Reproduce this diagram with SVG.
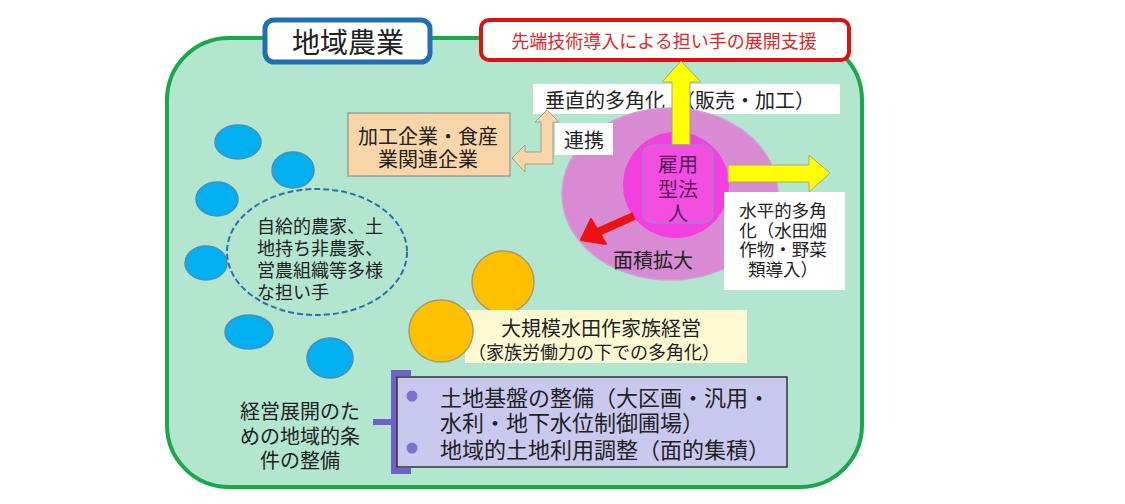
<svg xmlns="http://www.w3.org/2000/svg" width="1125" height="504" viewBox="0 0 1125 504">
<style>
text{font-family:"Noto Sans CJK JP","Noto Sans",sans-serif;dominant-baseline:central;fill:#222}
.c{text-anchor:middle}
.wbox{fill:#ffffff}
.blue{fill:#00b0f0;stroke:#4a8fb8;stroke-width:1.5}
.orange{fill:#ffc000;stroke:#a89a72;stroke-width:1.5}
.yarrow{fill:#ffff00;stroke:#a8a878;stroke-width:1}
.corp{fill:#5c1a5c}
</style>
<rect width="1125" height="504" fill="#ffffff"/>
<g id="region">
<rect x="167" y="38" width="695" height="449" rx="62" fill="#b3e6cf" stroke="#19a94a" stroke-width="4"/>
</g>
<g id="title">
<rect x="265" y="20" width="165" height="42" rx="9" fill="#ffffff" stroke="#1e6fb8" stroke-width="5"/>
<text class="c" x="348" y="41" font-size="28">地域農業</text>
</g>
<g id="support">
<rect x="481" y="20" width="368" height="40" rx="8" fill="#ffffff" stroke="#e01010" stroke-width="4"/>
<text class="c" x="664" y="40" font-size="18" style="fill:#e02626">先端技術導入による担い手の展開支援</text>
</g>
<g id="vertical-label">
<rect class="wbox" x="533" y="84" width="307" height="30"/>
<text x="545" y="99" font-size="20">垂直的多角化　（販売・加工）</text>
</g>
<g id="corporation">
<ellipse cx="670" cy="194" rx="108" ry="86" fill="#d88ad2" stroke="#cf9fd6" stroke-width="1.5"/>
<circle cx="676" cy="185" r="53" fill="#f23fe0"/>
</g>
<g id="connectors">
<path class="yarrow" d="M672,146 L672,82 L662,82 L681,61 L701,82 L690,82 L690,146 Z"/>
<path class="yarrow" d="M728,165 L809,165 L809,155 L830,173 L809,192 L809,182 L728,182 Z"/>
<path d="M512,158 L525,145 L525,152 L541,152 L541,122 L535,122 L547,110 L559,122 L553,122 L553,164 L525,164 L525,172 Z" fill="#f9d6a8" stroke="#a0a090" stroke-width="1"/>
<line x1="634" y1="216" x2="598" y2="232" stroke="#ee1111" stroke-width="8"/>
<polygon points="581,240 591,219 606,244" fill="#ee1111" stroke="#ee1111" stroke-width="2" stroke-linejoin="round"/>
</g>
<g id="corporation-label">
<rect x="643" y="145" width="70" height="78" rx="10" fill="#f24ee0" stroke="#b07acb" stroke-width="1.5"/>
<text class="c corp" x="678" y="163" font-size="20"><tspan x="678" y="163">雇用</tspan><tspan x="678" y="188">型法</tspan><tspan x="678" y="212">人</tspan></text>
</g>
<g id="area-expansion">
<text class="c" x="653" y="259" font-size="20">面積拡大</text>
</g>
<g id="horizontal-label">
<rect class="wbox" x="724" y="192" width="121" height="98"/>
<text class="c" x="783" y="209" font-size="17.5"><tspan x="783" y="209">水平的多角</tspan><tspan x="783" y="228.5">化（水田畑</tspan><tspan x="783" y="248">作物・野菜</tspan><tspan x="783" y="267.5">類導入）</tspan></text>
</g>
<g id="food-industry">
<rect x="348" y="113" width="162" height="63" fill="#f9d6a8" stroke="#a0a090" stroke-width="1.5"/>
<text class="c" x="428" y="135" font-size="20"><tspan x="428" y="135">加工企業・食産</tspan><tspan x="428" y="158">業関連企業</tspan></text>
</g>
<g id="cooperation">
<rect class="wbox" x="555" y="123" width="58" height="32"/>
<text class="c" x="584" y="139" font-size="20">連携</text>
</g>
<g id="diverse-farmers">
<ellipse class="blue" cx="238" cy="142" rx="23" ry="17"/>
<ellipse class="blue" cx="293" cy="170" rx="21" ry="18"/>
<ellipse class="blue" cx="217" cy="199" rx="21" ry="17"/>
<ellipse class="blue" cx="206" cy="263" rx="21" ry="17"/>
<ellipse class="blue" cx="249" cy="332" rx="24" ry="17"/>
<ellipse class="blue" cx="330" cy="358" rx="23" ry="20"/>
<ellipse cx="317" cy="252" rx="90" ry="63" fill="none" stroke="#2e6fa8" stroke-width="2" stroke-dasharray="6,3"/>
<text x="257" y="225" font-size="18"><tspan x="257" y="225">自給的農家、土</tspan><tspan x="257" y="247">地持ち非農家、</tspan><tspan x="257" y="269">営農組織等多様</tspan><tspan x="257" y="291">な担い手</tspan></text>
</g>
<g id="family-farm">
<circle class="orange" cx="503" cy="282" r="31"/>
<rect x="465" y="310" width="282" height="53" fill="#fdf9d2"/>
<ellipse class="orange" cx="441" cy="331" rx="32" ry="31"/>
<text class="c" x="601" y="327" font-size="20"><tspan x="601" y="327">大規模水田作家族経営</tspan><tspan x="594" y="351" font-size="18">（家族労働力の下での多角化）</tspan></text>
</g>
<g id="conditions">
<path d="M411,373 L394,373 L394,471 L411,471 M394,422 L373,422" fill="none" stroke="#6f62c6" stroke-width="6"/>
<rect x="397" y="377" width="390" height="90" fill="#c9c9f0" stroke="#333333" stroke-width="1.5"/>
<circle cx="412" cy="396" r="5.5" fill="#7b6fd0"/>
<circle cx="412" cy="448" r="5.5" fill="#7b6fd0"/>
<text x="440" y="396" font-size="22"><tspan x="440" y="396">土地基盤の整備（大区画・汎用・</tspan><tspan x="440" y="421">水利・地下水位制御圃場）</tspan><tspan x="440" y="448">地域的土地利用調整（面的集積）</tspan></text>
<text class="c" x="300" y="410" font-size="20"><tspan x="300" y="410">経営展開のた</tspan><tspan x="300" y="435">めの地域的条</tspan><tspan x="300" y="459">件の整備</tspan></text>
</g>
</svg>
